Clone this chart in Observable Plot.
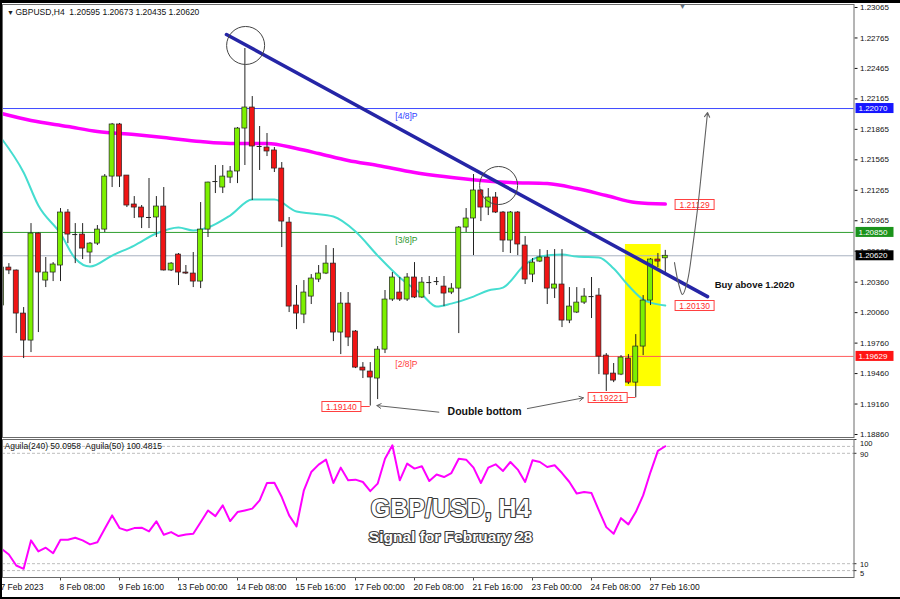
<!DOCTYPE html>
<html><head><meta charset="utf-8">
<script src="https://cdn.jsdelivr.net/npm/d3@7"></script>
<script src="https://cdn.jsdelivr.net/npm/@observablehq/plot@0.6"></script>
<style>
html,body{margin:0;padding:0;background:#fff;}
#wrap{position:relative;width:900px;height:599px;overflow:hidden;background:#fff;}
.layer{position:absolute;left:0;width:900px;}
#border{position:absolute;left:0;top:0;width:900px;height:599px;box-sizing:border-box;border-top:3px solid #000;border-left:2px solid #000;border-bottom:2px solid #000;pointer-events:none;}
</style></head>
<body><div id="wrap"></div>
<script>
// ---- data (H4 candles, index 0 = 7 Feb 2023 00:00) ----
const opens  = [1.20130,1.20504,1.20475,1.20051,1.19785,1.20839,1.20376,1.20455,1.20524,1.21046,1.20829,1.20829,1.20652,1.20740,1.20878,1.21400,1.21913,1.21410,1.21125,1.21095,1.20997,1.20997,1.21105,1.20475,1.20632,1.20455,1.20445,1.20366,1.20878,1.21351,1.21292,1.21390,1.21450,1.21873,1.22080,1.21696,1.21686,1.21657,1.21479,1.20947,1.20130,1.20041,1.20218,1.20386,1.20445,1.20543,1.19864,1.20149,1.19874,1.19519,1.19480,1.19411,1.19696,1.20189,1.20258,1.20189,1.20406,1.20209,1.20356,1.20366,1.20317,1.20258,1.20297,1.20898,1.20987,1.21263,1.21095,1.21194,1.21046,1.20770,1.21046,1.20721,1.20435,1.20563,1.20603,1.20297,1.20337,1.19982,1.20061,1.20159,1.20218,1.20228,1.19637,1.19460,1.19450,1.19608,1.19371,1.19726,1.20179,1.20583,1.20595];
const highs  = [1.20524,1.20543,1.20480,1.20110,1.20937,1.20845,1.20603,1.20553,1.21085,1.21075,1.20937,1.20937,1.20750,1.20918,1.21420,1.21923,1.21923,1.21410,1.21203,1.21115,1.21381,1.21203,1.21292,1.20553,1.20642,1.20524,1.20652,1.21144,1.21345,1.21509,1.21509,1.21499,1.21883,1.22661,1.22188,1.21893,1.21824,1.21686,1.21538,1.20997,1.20327,1.20376,1.20435,1.20524,1.20721,1.20691,1.20258,1.20258,1.19884,1.19568,1.19568,1.19726,1.20278,1.20455,1.20406,1.20445,1.20553,1.20406,1.20416,1.20406,1.20416,1.20346,1.20908,1.21085,1.21420,1.21273,1.21282,1.21243,1.21056,1.21056,1.21056,1.20809,1.20593,1.20681,1.20672,1.20681,1.20681,1.20307,1.20307,1.20297,1.20406,1.20297,1.19657,1.19559,1.19637,1.19647,1.19844,1.20228,1.20593,1.20642,1.20673];
const lows   = [1.20120,1.20435,1.19854,1.19608,1.19667,1.19864,1.20307,1.20366,1.20366,1.20740,1.20543,1.20583,1.20543,1.20721,1.20849,1.21292,1.21292,1.21095,1.20987,1.20888,1.20888,1.20800,1.20470,1.20465,1.20327,1.20435,1.20307,1.20297,1.20800,1.21233,1.21233,1.21331,1.21331,1.21509,1.21164,1.21460,1.21597,1.21440,1.20701,1.20061,1.19893,1.19952,1.20140,1.20356,1.20435,1.19775,1.19647,1.19726,1.19509,1.19411,1.19140,1.19204,1.19657,1.20170,1.20170,1.20170,1.20199,1.20199,1.20238,1.20327,1.20120,1.20238,1.19854,1.20849,1.20622,1.20957,1.21016,1.21036,1.20652,1.20642,1.20622,1.20337,1.20356,1.20553,1.20140,1.20199,1.19913,1.19952,1.20051,1.20140,1.20002,1.19450,1.19283,1.19371,1.19440,1.19352,1.19221,1.19637,1.20130,1.20504,1.20435];
const closes = [1.20504,1.20475,1.20051,1.19785,1.20839,1.20455,1.20455,1.20534,1.21046,1.20829,1.20829,1.20691,1.20740,1.20878,1.21400,1.21913,1.21400,1.21115,1.21095,1.20997,1.20997,1.21105,1.20475,1.20543,1.20455,1.20445,1.20366,1.20878,1.21341,1.21351,1.21400,1.21450,1.21873,1.22080,1.21696,1.21696,1.21647,1.21479,1.20957,1.20120,1.20051,1.20258,1.20396,1.20445,1.20543,1.19864,1.20149,1.19815,1.19519,1.19490,1.19421,1.19696,1.20189,1.20406,1.20189,1.20406,1.20209,1.20356,1.20356,1.20366,1.20248,1.20297,1.20898,1.20987,1.21263,1.21095,1.21194,1.21046,1.20770,1.21046,1.20731,1.20386,1.20553,1.20603,1.20297,1.20337,1.19982,1.20120,1.20159,1.20218,1.20218,1.19627,1.19450,1.19391,1.19618,1.19371,1.19726,1.20179,1.20583,1.20563,1.20620];

// moving averages (sampled along the drawn curves)
const maSlowIdx = [0,4,9,13,18,22,27,31,36,40,43,47,51,56,60,65,69,74,78,82,86,90];
const maSlowVal = [1.22021,1.21952,1.21893,1.21844,1.21814,1.21785,1.21745,1.21726,1.21726,1.21676,1.21627,1.21558,1.21509,1.21440,1.21400,1.21361,1.21341,1.21331,1.21282,1.21213,1.21144,1.21129];
const maFastIdx = [0,3,5,8,10,12,15,18,21,24,26,28,31,34,37,40,42,45,48,51,54,57,59,61,64,66,68,71,73,76,78,81,83,85,87,88,90];
const maFastVal = [1.21775,1.21440,1.21115,1.20839,1.20593,1.20514,1.20622,1.20721,1.20839,1.20898,1.20869,1.20898,1.21016,1.21174,1.21174,1.21056,1.21036,1.21006,1.20859,1.20622,1.20406,1.20238,1.20120,1.20149,1.20218,1.20278,1.20307,1.20534,1.20612,1.20632,1.20612,1.20603,1.20494,1.20327,1.20189,1.20159,1.20130];

// Aguila oscillator
const aguila = [20.8,16.7,8.7,6.3,26.9,18.9,21.6,17.6,27.4,27.4,28.8,26.9,24,25.6,35.4,45,35.8,34.1,35.8,36.1,33.4,40.7,31,32.9,30,31.2,31.7,40.1,48.6,44.5,52.3,40.9,47.4,48.6,49.9,55.9,68.5,68.7,58.3,45,37,63.2,76.4,81.8,85.4,68.5,79.6,70.4,70.9,69.2,62.6,68,86.1,95.8,70.4,82.5,78.9,80.6,69.9,74.6,72.8,75.7,86.1,85.4,79.6,68.5,79.6,82,77.2,83.7,78.2,69.2,84.9,83.7,80.1,81.3,75.7,69.2,60.8,61.9,61.2,48.6,36.5,31.7,43,38.5,47.4,59.5,76.4,91.7,95.1];
const aguilaLevels = [95, 90, 10, 5];
const aguilaTicks = [100, 90, 10, 5];
const aguilaTickShift = [4.5, 1.5, 0.5, 3];

// axes
const priceTicks = [1.23065,1.22765,1.22465,1.22165,1.21865,1.21565,1.21265,1.20965,1.20665,1.20360,1.20060,1.19760,1.19460,1.19160,1.18860];
const timeTickIdx = [0,8,16,24,32,40,48,56,64,72,80,88];
const timeLabels = ["7 Feb 2023","8 Feb 08:00","9 Feb 16:00","13 Feb 00:00","14 Feb 08:00","15 Feb 16:00","17 Feb 00:00","20 Feb 08:00","21 Feb 16:00","23 Feb 00:00","24 Feb 08:00","27 Feb 16:00"];

// horizontal levels
const levelPrices = [1.22070, 1.20850, 1.20620, 1.19629];
const levelNames  = ["[4/8]P", "[3/8]P", "", "[2/8]P"];
const levelLabelIdx = 54.9;

// annotations (data units: candle index, price)
const trendIdx = [30.5, 95.73];
const trendPrice = [1.22799, 1.20218];
const circleIdx = [33.1, 67.4];
const circlePrice = [1.22691, 1.21312];
const highlightIdx = [84.6, 89.45];
const highlightPrice = [1.19332, 1.20731];
const tagPrices  = [1.21129, 1.20130, 1.19140, 1.19221];
const tagAnchor  = [91.4, 91.4, 48.8, 84.9];
const tagTarget  = [null, null, 50, 86];
const tagSide    = ["start", "start", "end", "end"];
const curveIdx   = [91.25, 91.8, 92.34, 93.02, 93.7, 94.4, 94.78];
const curvePrice = [1.20553, 1.20346, 1.20238, 1.20376, 1.20701, 1.21095, 1.21351];
const curveTip   = [95.73, 1.22031];
const arrowsFrom = [[59.3, 1.19080], [71.3, 1.19115]];
const arrowsTo   = [[50.9, 1.19145], [78.9, 1.19221]];
const doubleBottomPos = [65.5, 1.19081];
const buyPos = [96.7, 1.20337];
const shiftMarkPos = [92.34, 1.23075];
const header = "GBPUSD,H4\u00a0 1.20595 1.20673 1.20435 1.20620";
const indHeader = "Aguila(240) 50.0958\u00a0 Aguila(50) 100.4815";
const watermark = ["GBP/USD, H4", "Signal for February 28"];
const watermarkPos = [[60.9, 50], [60.9, 29]];

// ---- styles ----
const FONT = "'Liberation Sans', Arial, sans-serif";
const UP = "#7cf000", DOWN = "#f01414", WICK = "#222";
const levelColors = ["#3d48ff", "#2f9e2f", "#a8b2c0", "#ff5c5c"];
const levelTextColors = ["#2f3cff", "#2a962a", "#000", "#ff3a3a"];
const boxColors = ["#1717ff", "#1b931b", "#000000", "#ff1414"];
const xDomain = [0.1356, 115.59];
const HW = 0.34;

const candles = opens.map((o, i) => ({i, o, h: highs[i], l: lows[i], c: closes[i]}));
const ups = candles.filter(d => d.c > d.o);
const downs = candles.filter(d => d.c < d.o);
const dojis = candles.filter(d => d.c === d.o);
const maSlow = maSlowIdx.map((i, k) => ({i, v: maSlowVal[k]}));
const maFast = maFastIdx.map((i, k) => ({i, v: maFastVal[k]}));
const curve = curveIdx.map((i, k) => ({i, v: curvePrice[k]}));

const axisBoxes = (index, scales, values, dim) => {
  const g = d3.create("svg:g").attr("font-family", FONT).attr("font-size", 8).attr("text-anchor", "start");
  const x0 = dim.width - dim.marginRight + 2;
  levelPrices.forEach((p, k) => {
    const y = scales.y(p);
    g.append("rect").attr("x", x0).attr("y", y - 5).attr("width", 38).attr("height", 10).attr("fill", boxColors[k]);
    g.append("text").attr("x", x0 + 3).attr("y", y).attr("dy", "0.36em").attr("fill", "#fff").text(p.toFixed(5));
  });
  return g.node();
};

const priceTags = (index, scales, values, dim) => {
  const g = d3.create("svg:g").attr("font-family", FONT).attr("font-size", 8.5);
  tagPrices.forEach((p, k) => {
    const xa = scales.x(tagAnchor[k]), y = Math.round(scales.y(p)) + 0.5;
    const w = 39, h = 10;
    const left = tagSide[k] === "start" ? xa : xa - w;
    if (tagTarget[k] != null) {
      g.append("line").attr("x1", xa).attr("x2", scales.x(tagTarget[k])).attr("y1", y).attr("y2", y).attr("stroke", "#ff4040");
    }
    g.append("rect").attr("x", left).attr("y", y - h / 2).attr("width", w).attr("height", h)
      .attr("fill", "#fff").attr("stroke", "#ff4040");
    g.append("text").attr("x", left + w / 2).attr("y", y).attr("dy", "0.36em").attr("text-anchor", "middle")
      .attr("fill", "#ff2a2a").text(p.toFixed(5));
  });
  return g.node();
};

const baseStyle = {background: "transparent", fontFamily: FONT, fontSize: "8px", color: "#111", overflow: "visible"};

const main = Plot.plot({
  width: 900, height: 440,
  marginLeft: 2, marginRight: 46.5, marginTop: 4, marginBottom: 3,
  x: {domain: xDomain, axis: null},
  y: {domain: [1.188305, 1.230945], axis: "right", ticks: priceTicks, tickFormat: d => d.toFixed(5), tickSize: 3, tickPadding: 3, label: null},
  style: baseStyle,
  marks: [
    Plot.rect([0], {x1: () => highlightIdx[0], x2: () => highlightIdx[1], y1: () => highlightPrice[0], y2: () => highlightPrice[1], fill: "#ffff00"}),
    ...levelPrices.map((p, k) => Plot.ruleY([p], {stroke: levelColors[k], strokeWidth: 1})),
    ...levelPrices.map((p, k) => levelNames[k] ? Plot.text([p], {x: () => levelLabelIdx, y: d => d, dy: 8, text: () => levelNames[k], fill: levelTextColors[k], fontSize: 8.5}) : null).filter(Boolean),
    Plot.line(maSlow, {x: "i", y: "v", stroke: "#ff00ff", strokeWidth: 3.5, curve: "monotone-x"}),
    Plot.line(maFast, {x: "i", y: "v", stroke: "#45ddd0", strokeWidth: 2, curve: "monotone-x"}),
    Plot.ruleX(candles, {x: "i", y1: "l", y2: "h", stroke: WICK, strokeWidth: 1}),
    Plot.rect(ups, {x1: d => d.i - HW, x2: d => d.i + HW, y1: "o", y2: "c", fill: UP, stroke: WICK, strokeWidth: 0.7}),
    Plot.rect(downs, {x1: d => d.i - HW, x2: d => d.i + HW, y1: "o", y2: "c", fill: DOWN, stroke: WICK, strokeWidth: 0.7}),
    Plot.ruleY(dojis, {y: "o", x1: d => d.i - HW, x2: d => d.i + HW, stroke: WICK, strokeWidth: 1}),
    Plot.link([0], {x1: () => trendIdx[0], y1: () => trendPrice[0], x2: () => trendIdx[1], y2: () => trendPrice[1], stroke: "#2525a6", strokeWidth: 3.5, strokeLinecap: "round"}),
    Plot.dot(circleIdx.map((i, k) => ({i, v: circlePrice[k]})), {x: "i", y: "v", r: 19, stroke: "#444", strokeWidth: 1, fill: "none"}),
    priceTags,
    Plot.arrow(arrowsFrom.map((a, k) => ({a, b: arrowsTo[k]})), {x1: d => d.a[0], y1: d => d.a[1], x2: d => d.b[0], y2: d => d.b[1], stroke: "#606060", strokeWidth: 1, headLength: 7}),
    Plot.text(["Double bottom"], {x: () => doubleBottomPos[0], y: () => doubleBottomPos[1], text: d => d, fontWeight: "bold", fontSize: 10.5, fill: "#111"}),
    Plot.text(["Buy above 1.2020"], {x: () => buyPos[0], y: () => buyPos[1], text: d => d, textAnchor: "start", fontWeight: "bold", fontSize: 9.5, fill: "#111"}),
    Plot.line(curve, {x: "i", y: "v", curve: "catmull-rom", stroke: "#606060", strokeWidth: 1.1}),
    Plot.arrow([0], {x1: () => curveIdx[curveIdx.length - 1], y1: () => curvePrice[curvePrice.length - 1], x2: () => curveTip[0], y2: () => curveTip[1], stroke: "#606060", strokeWidth: 1.1, headLength: 7}),
    Plot.text(["\u25bc"], {x: () => shiftMarkPos[0], y: () => shiftMarkPos[1], text: d => d, fontSize: 8, fill: "#5e6f80"}),
    Plot.text(["\u25bc"], {frameAnchor: "top-left", dx: 4.5, dy: 8, text: d => d, fontSize: 7, fill: "#222", lineAnchor: "middle"}),
    Plot.text([header], {frameAnchor: "top-left", dx: 13, dy: 8, text: d => d, textAnchor: "start", lineAnchor: "middle", fontSize: 8.5, fill: "#111"}),
    axisBoxes,
    Plot.frame({stroke: "#6a6a6a"})
  ]
});

const ind = Plot.plot({
  width: 900, height: 169,
  marginLeft: 2, marginRight: 46.5, marginTop: 9, marginBottom: 22,
  x: {domain: xDomain, axis: null},
  y: {domain: [0, 100], axis: null},
  style: baseStyle,
  marks: [
    Plot.ruleY(aguilaLevels, {stroke: "#bdbdbd", strokeDasharray: "3,2"}),
    ...watermark.map((t, k) => Plot.text([t], {x: () => watermarkPos[k][0], y: () => watermarkPos[k][1], text: d => d, fontSize: k === 0 ? 25 : 15.5, fontWeight: "bold", fill: "#ffffff", stroke: "#3a3a3a", strokeWidth: 2.2, paintOrder: "stroke", fontFamily: FONT, ariaLabel: "watermark"})),
    Plot.line(aguila.map((v, i) => ({i, v})), {x: "i", y: "v", stroke: "#ff00ff", strokeWidth: 2}),
    Plot.text([indHeader], {frameAnchor: "top-left", dx: 2, dy: 7, text: d => d, textAnchor: "start", lineAnchor: "middle", fontSize: 8.5, fill: "#111"}),
    // right value axis of the oscillator
    Plot.ruleY(aguilaTicks, {y: d => d, x1: () => xDomain[1], x2: () => xDomain[1] + 0.4, stroke: "#333"}),
    ...aguilaTicks.map((t, k) => Plot.text([t], {y: d => d, frameAnchor: "right", dx: 6, dy: aguilaTickShift[k], text: d => String(d), textAnchor: "start", fontSize: 7.5, fill: "#111"})),
    Plot.ruleX(timeTickIdx, {x: d => d, y1: 0, y2: -2.5, stroke: "#444"}),
    Plot.text(timeTickIdx, {x: d => d, frameAnchor: "bottom", dy: 10, dx: -1, text: (d, k) => timeLabels[k], textAnchor: "start", lineAnchor: "middle", fontSize: 8.5, fill: "#111"}),
    Plot.frame({stroke: "#6a6a6a"})
  ]
});
d3.select(ind).selectAll('g[aria-label="watermark"]').style("filter", "drop-shadow(1.5px 2px 1.2px rgba(0,0,0,0.55))");

const wrap = document.getElementById("wrap");
function place(node, top) {
  const d = document.createElement("div");
  d.className = "layer";
  d.style.top = top + "px";
  d.appendChild(node);
  wrap.appendChild(d);
}
place(main, 0);
place(ind, 430);
const b = document.createElement("div");
b.id = "border";
wrap.appendChild(b);
</script>
</body></html>
